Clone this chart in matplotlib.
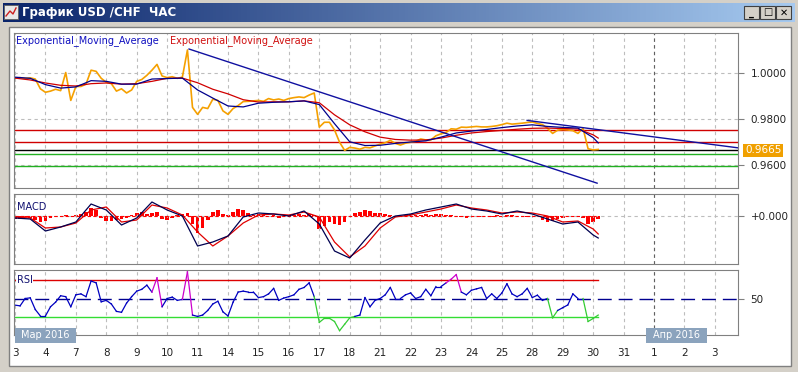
import numpy as np
import matplotlib.pyplot as plt
from matplotlib.patches import Rectangle

W, H = 798, 372

# Day labels on the time axis (one per trading day)
days = ['3', '4', '7', '8', '9', '10', '11', '14', '15', '16', '17', '18',
        '21', '22', '23', '24', '25', '28', '29', '30', '31', '1', '2', '3']

# USD/CHF close, sampled every 1/6 of a day
price = [0.9976, 0.9978, 0.9975, 0.9977, 0.9972, 0.9930, 0.9915, 0.9920, 0.9928, 0.9922,
         1.0000, 0.9880, 0.9940, 0.9940, 0.9950, 1.0010, 1.0005, 0.9975, 0.9958, 0.9952,
         0.9920, 0.9930, 0.9912, 0.9925, 0.9962, 0.9970, 0.9988, 1.0010, 1.0035, 0.9985,
         0.9978, 0.9982, 0.9975, 0.9980, 1.0097, 0.9850, 0.9820, 0.9850, 0.9845, 0.9885,
         0.9880, 0.9835, 0.9820, 0.9845, 0.9858, 0.9875, 0.9876, 0.9878, 0.9880, 0.9876,
         0.9888, 0.9882, 0.9886, 0.9880, 0.9888, 0.9892, 0.9895, 0.9892, 0.9903, 0.9912,
         0.9765, 0.9786, 0.9786, 0.9753, 0.9700, 0.9665, 0.9678, 0.9675, 0.9670, 0.9678,
         0.9676, 0.9684, 0.9692, 0.9698, 0.9708, 0.9695, 0.9688, 0.9696, 0.9700, 0.9704,
         0.9714, 0.9710, 0.9710, 0.9728, 0.9736, 0.9742, 0.9758, 0.9756, 0.9765, 0.9764,
         0.9766, 0.9768, 0.9766, 0.9766, 0.9768, 0.9771, 0.9776, 0.9782, 0.9778, 0.9780,
         0.9782, 0.9785, 0.9787, 0.9781, 0.9776, 0.9760, 0.9738, 0.9752, 0.9755, 0.9753,
         0.9750, 0.9738, 0.9760, 0.9672, 0.9667, 0.9669]

# Two exponential moving averages, read every half day (+ last bar)
ema_fast = [0.9980, 0.9975, 0.9948, 0.9933, 0.9938, 0.9965, 0.9962, 0.9950, 0.9950, 0.9972,
            0.9974, 0.9976, 0.9925, 0.9890, 0.9856, 0.9852, 0.9868, 0.9872, 0.9874, 0.9878,
            0.9862, 0.9780, 0.9702, 0.9686, 0.9687, 0.9695, 0.9701, 0.9706, 0.9722, 0.9740,
            0.9748, 0.9755, 0.9763, 0.9770, 0.9775, 0.9768, 0.9764, 0.9761, 0.9720, 0.9697]
ema_slow = [0.9976, 0.9968, 0.9955, 0.9945, 0.9942, 0.9952, 0.9955, 0.9950, 0.9952, 0.9962,
            0.9975, 0.9976, 0.9956, 0.9928, 0.9908, 0.9883, 0.9873, 0.9874, 0.9874, 0.9878,
            0.9870, 0.9818, 0.9775, 0.9745, 0.9722, 0.9712, 0.9709, 0.9710, 0.9718, 0.9730,
            0.9740, 0.9746, 0.9751, 0.9756, 0.9760, 0.9761, 0.9759, 0.9757, 0.9732, 0.9718]

# Horizontal levels and trend lines drawn on the price chart
red_levels = [0.9753, 0.9700]
black_level = 0.9665
green_levels = [0.9648, 0.9597]
trend_a = ([5.72, 19.13], [1.0101, 0.9524])
trend_b = ([16.83, 23.76], [0.9794, 0.9676])

# MACD main / signal (half-day) and histogram (1/6 day)
macd_main = [-0.0002, -0.0003, -0.0015, -0.0011, -0.0006, 0.0012, 0.0006, -0.0009, -0.0002, 0.0014,
             0.0006, 0.0000, -0.0030, -0.0026, -0.0020, -0.0001, 0.0003, 0.0002, 0.0000, 0.0005,
             -0.0008, -0.0035, -0.0042, -0.0024, -0.0007, 0.0000, 0.0002, 0.0006, 0.0009, 0.0012,
             0.0007, 0.0005, 0.0002, 0.0005, 0.0002, -0.0003, -0.0008, -0.0006, -0.0019, -0.0022]
macd_signal = [-0.0001, -0.0002, -0.0012, -0.0011, -0.0007, 0.0006, 0.0009, -0.0006, -0.0004, 0.0011,
               0.0008, 0.0001, -0.0016, -0.0030, -0.0020, -0.0007, 0.0001, 0.0002, 0.0001, 0.0004,
               -0.0001, -0.0026, -0.0041, -0.0030, -0.0012, -0.0001, 0.0001, 0.0004, 0.0007, 0.0011,
               0.0008, 0.0006, 0.0003, 0.0004, 0.0003, 0.0000, -0.0006, -0.0005, -0.0013, -0.0018]
macd_hist = [-0.0003, -0.0003, -0.0001, -0.0002, -0.0004, -0.0006, -0.0005, -0.0002, -0.0001, 0.0000,
             0.0001, -0.0001, 0.0001, 0.0002, 0.0004, 0.0008, 0.0006, -0.0002, -0.0005, -0.0005,
             -0.0004, -0.0003, -0.0002, 0.0001, 0.0003, 0.0004, 0.0002, 0.0003, 0.0004, -0.0003,
             -0.0004, -0.0002, 0.0001, 0.0002, 0.0003, -0.0008, -0.0017, -0.0012, -0.0004, 0.0004,
             0.0006, 0.0002, 0.0001, 0.0004, 0.0007, 0.0006, 0.0003, 0.0001, 0.0002, 0.0001,
             -0.0001, 0.0001, -0.0002, 0.0000, 0.0001, 0.0001, 0.0002, 0.0001, 0.0002, 0.0001,
             -0.0013, -0.0010, -0.0006, -0.0008, -0.0009, -0.0006, -0.0001, 0.0003, 0.0004, 0.0006,
             0.0005, 0.0003, 0.0003, 0.0002, 0.0001, 0.0000, -0.0001, 0.0001, 0.0002, 0.0001,
             0.0001, 0.0002, 0.0001, 0.0002, 0.0002, 0.0001, 0.0001, 0.0000, -0.0001, -0.0002,
             -0.0001, -0.0001, -0.0001, 0.0000, -0.0001, 0.0001, 0.0000, 0.0001, 0.0001, 0.0000,
             0.0000, -0.0001, 0.0000, -0.0001, -0.0004, -0.0006, -0.0005, -0.0003, -0.0002, -0.0001,
             0.0000, -0.0001, -0.0002, -0.0008, -0.0006, -0.0003]

# RSI, 1/6 day
rsi = [42.8, 42.0, 50.0, 50.7, 38.0, 31.0, 31.0, 41.0, 46.0, 53.0,
       52.0, 41.0, 54.0, 55.0, 52.0, 69.0, 67.0, 46.4, 48.0, 44.0,
       36.0, 35.0, 45.0, 52.0, 58.0, 60.0, 64.5, 57.0, 72.5, 41.0,
       50.0, 51.5, 48.0, 49.0, 79.0, 32.0, 30.5, 32.0, 37.0, 44.0,
       47.0, 35.5, 31.0, 46.0, 57.0, 58.0, 57.0, 57.0, 51.0, 52.0,
       55.0, 61.0, 48.0, 50.5, 52.0, 54.0, 60.0, 62.0, 67.0, 52.0,
       24.0, 28.5, 28.5, 25.0, 15.0, 22.0, 29.0, 30.5, 32.0, 51.0,
       41.0, 48.0, 50.0, 54.0, 62.0, 50.0, 50.0, 54.0, 56.0, 50.0,
       52.0, 60.0, 53.0, 63.0, 63.0, 67.0, 71.0, 76.0, 57.0, 54.0,
       59.0, 60.5, 62.0, 50.0, 55.0, 50.0, 56.0, 66.0, 55.0, 52.0,
       55.0, 61.0, 51.0, 53.6, 48.0, 50.0, 29.0, 37.0, 40.0, 43.0,
       55.0, 50.0, 50.0, 25.0, 28.3, 32.0]

x_bar = np.arange(len(price)) / 6.0
x_half = list(np.arange(len(ema_fast) - 1) * 0.5) + [x_bar[-1]]
x_end = x_bar[-1]
xlim = (-0.033, 23.76)


def px_box(top, bottom, left=14, right=738):
    return [left / W, 1 - bottom / H, (right - left) / W, (bottom - top) / H]


fig = plt.figure(figsize=(W / 100, H / 100), dpi=100)
fig.patch.set_facecolor('#d4d0c8')
plt.rcParams['font.family'] = ['DejaVu Sans']

# window chrome drawn in a pixel-space background axes
bg = fig.add_axes([0, 0, 1, 1], zorder=-5)
bg.set_xlim(0, W)
bg.set_ylim(H, 0)
bg.axis('off')
grad = np.linspace(0, 1, 256).reshape(1, -1)
c0, c1 = np.array([10, 36, 106]) / 255, np.array([166, 202, 240]) / 255
grad_rgb = c0 + (c1 - c0) * grad[..., None]
bg.imshow(grad_rgb, extent=(3, 795, 22, 3), aspect='auto', zorder=1)
bg.add_patch(Rectangle((9, 27), 782, 339, facecolor='white', edgecolor='#808080', lw=1, zorder=1))
bg.add_patch(Rectangle((4, 5), 14, 14, facecolor='#e8e8e8', edgecolor='#606060', lw=0.6, zorder=2))
bg.plot([6, 10, 13, 16], [16, 11, 14, 8], color='#cc2020', lw=1, zorder=3)
bg.text(22, 12.5, 'График USD /CHF  ЧАС', color='white', fontsize=8.5, fontweight='bold',
        va='center', ha='left', zorder=3)
for bx, sym in zip([744, 760, 776], ['_', '□', '✕']):
    bg.add_patch(Rectangle((bx, 6), 15, 13, facecolor='#d4d0c8', edgecolor='#404040', lw=0.8, zorder=2))
    bg.text(bx + 7.5, 12.5, sym, ha='center', va='center', fontsize=7, fontweight='bold', zorder=3)

ax_p = fig.add_axes(px_box(33, 188))
ax_m = fig.add_axes(px_box(194, 264))
ax_r = fig.add_axes(px_box(270, 335))

for ax in (ax_p, ax_m, ax_r):
    ax.set_xlim(*xlim)
    ax.set_xticks(range(len(days)))
    ax.grid(axis='x', color='#bdbdbd', linestyle=(0, (3, 3)), lw=0.8)
    ax.axvline(21, color='#606060', linestyle=(0, (3, 3)), lw=0.8)
    for s in ax.spines.values():
        s.set_color('#808080')
    ax.yaxis.tick_right()
    ax.tick_params(axis='y', length=4, color='#808080', labelsize=7.5, pad=5, labelcolor='#222222')
    ax.tick_params(axis='x', length=0, labelbottom=False)

# price panel
ax_p.set_ylim(0.95032, 1.0170)
ax_p.set_yticks([1.0, 0.98, 0.96])
ax_p.set_yticklabels(['1.0000', '0.9800', '0.9600'])
ax_p.grid(axis='y', color='#bdbdbd', linestyle=(0, (3, 3)), lw=0.8)
for lv in red_levels:
    ax_p.axhline(lv, color='#d00000', lw=1)
ax_p.axhline(black_level, color='black', lw=1)
for lv in green_levels:
    ax_p.axhline(lv, color='#22b022', lw=1)
ax_p.plot(x_bar, price, color='#f5a000', lw=1.2)
ax_p.plot(x_half, ema_slow, color='#d00000', lw=0.9)
ax_p.plot(x_half, ema_fast, color='#00008c', lw=0.9)
ax_p.plot(*trend_a, color='#1010a0', lw=1)
ax_p.plot(*trend_b, color='#1010a0', lw=1)
ax_p.text(1.0097, black_level, '0.9665', transform=ax_p.get_yaxis_transform(), color='white',
          fontsize=7.5, va='center', ha='left',
          bbox=dict(boxstyle='square,pad=0.15', facecolor='#f0a000', edgecolor='none'))
ax_p.text(0.003, 0.95, 'Exponential_Moving_Average', transform=ax_p.transAxes, color='#1010c0',
          fontsize=7, va='center', ha='left')
ax_p.text(0.215, 0.95, 'Exponential_Moving_Average', transform=ax_p.transAxes, color='#d01010',
          fontsize=7, va='center', ha='left')

# MACD panel
ax_m.set_ylim(-0.0048, 0.0022)
ax_m.set_yticks([0])
ax_m.set_yticklabels(['+0.000'])
ax_m.grid(axis='y', color='#bdbdbd', linestyle=(0, (3, 3)), lw=0.8)
ax_m.bar(x_bar, macd_hist, width=0.12, color='#ff0000', lw=0)
ax_m.plot([0, x_end], [0, 0], color='#ff0000', lw=0.8, linestyle=(0, (3, 2)))
ax_m.plot(x_half, macd_signal, color='#e00000', lw=0.9)
ax_m.plot(x_half, macd_main, color='#000050', lw=0.9)
ax_m.text(0.004, 0.82, 'MACD', transform=ax_m.transAxes, color='#101070', fontsize=7,
          va='center', ha='left', bbox=dict(facecolor='white', edgecolor='none', pad=0.5))

# RSI panel
ax_r.set_ylim(10.3, 81.0)
ax_r.set_yticks([50])
ax_r.set_yticklabels(['50'])
ax_r.axhline(50, color='#000090', lw=1, linestyle=(0, (10, 5)))
ax_r.plot([0, x_end], [70, 70], color='#dd0000', lw=1)
ax_r.plot([0, x_end], [30, 30], color='#33dd33', lw=1)
r = np.array(rsi)
for i in range(len(r) - 1):
    a, b = r[i], r[i + 1]
    col = '#0000c0'
    if max(a, b) > 70:
        col = '#cc00cc'
    elif min(a, b) < 30:
        col = '#33cc33'
    ax_r.plot(x_bar[i:i + 2], r[i:i + 2], color=col, lw=0.9)
ax_r.text(0.004, 0.85, 'RSI', transform=ax_r.transAxes, color='#101070', fontsize=7,
          va='center', ha='left', bbox=dict(facecolor='white', edgecolor='none', pad=0.5))
ax_r.tick_params(axis='x', labelbottom=True, labelsize=7.5, pad=9, labelcolor='#222222')
ax_r.set_xticklabels(days)

# month badges on a transparent overlay above the panels
top = fig.add_axes([0, 0, 1, 1], zorder=10)
top.set_xlim(0, W)
top.set_ylim(H, 0)
top.axis('off')
top.patch.set_alpha(0)
for x0, lab in [(15, 'Мар 2016'), (646, 'Апр 2016')]:
    top.add_patch(Rectangle((x0, 328), 61, 15, facecolor='#8ba3bd', edgecolor='none'))
    top.text(x0 + 30.5, 335.5, lab, color='white', fontsize=7, ha='center', va='center')

fig.savefig('out.png', dpi=100, facecolor=fig.get_facecolor())
